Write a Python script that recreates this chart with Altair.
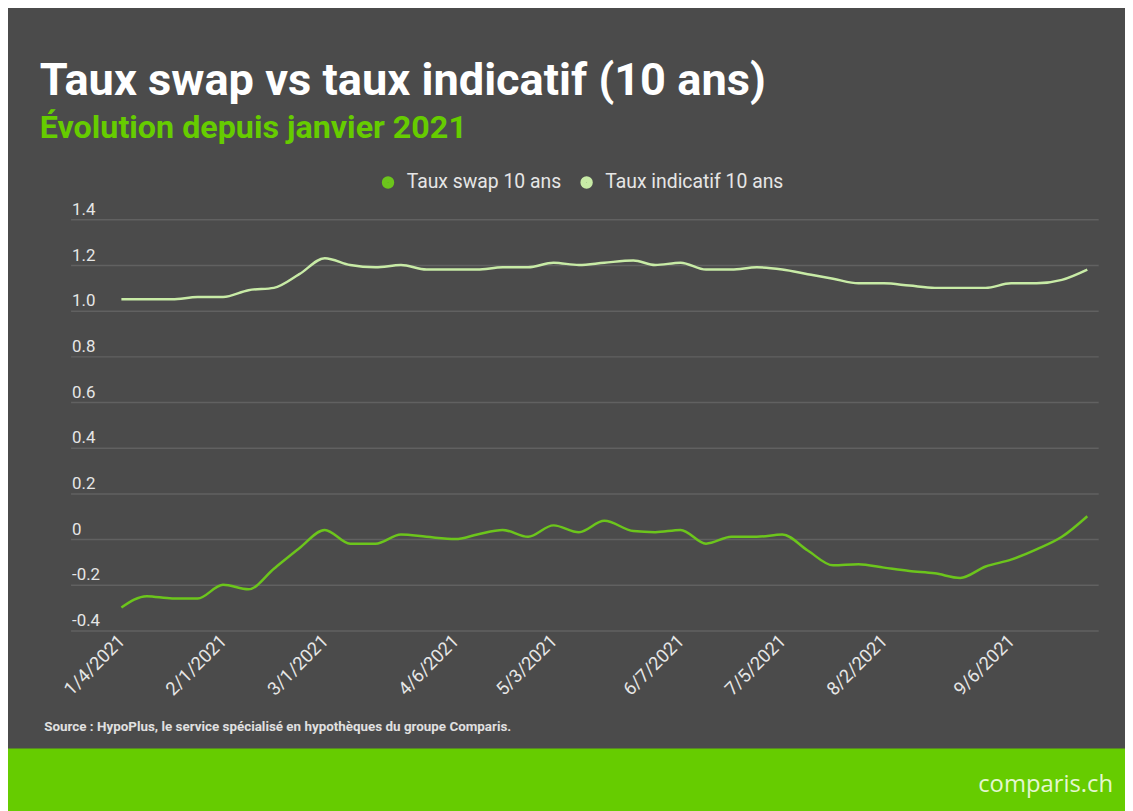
import altair as alt
import pandas as pd

# ---- data ----
dates = [
    "2021-01-04", "2021-01-11", "2021-01-18", "2021-01-25",
    "2021-02-01", "2021-02-08", "2021-02-15", "2021-02-22",
    "2021-03-01", "2021-03-08", "2021-03-15", "2021-03-22", "2021-03-29",
    "2021-04-06", "2021-04-12", "2021-04-19", "2021-04-26",
    "2021-05-03", "2021-05-10", "2021-05-17", "2021-05-25", "2021-05-31",
    "2021-06-07", "2021-06-14", "2021-06-21", "2021-06-28",
    "2021-07-05", "2021-07-12", "2021-07-19", "2021-07-26",
    "2021-08-02", "2021-08-09", "2021-08-16", "2021-08-23", "2021-08-30",
    "2021-09-06", "2021-09-13", "2021-09-20", "2021-09-27",
]
swap = [
    -0.30, -0.25, -0.26, -0.26,
    -0.20, -0.22, -0.13, -0.04,
    0.04, -0.02, -0.02, 0.02, 0.01,
    0.00, 0.02, 0.04, 0.01,
    0.06, 0.03, 0.08, 0.035, 0.03,
    0.04, -0.02, 0.01, 0.01,
    0.02, -0.05, -0.115, -0.11,
    -0.125, -0.14, -0.15, -0.17, -0.12,
    -0.09, -0.045, 0.01, 0.10,
]
indicatif = [
    1.05, 1.05, 1.05, 1.06,
    1.06, 1.09, 1.10, 1.16,
    1.23, 1.20, 1.19, 1.20, 1.18,
    1.18, 1.18, 1.19, 1.19,
    1.21, 1.20, 1.21, 1.22, 1.20,
    1.21, 1.18, 1.18, 1.19,
    1.18, 1.16, 1.14, 1.12,
    1.12, 1.11, 1.10, 1.10, 1.10,
    1.12, 1.12, 1.135, 1.18,
]
series_names = ["Taux swap 10 ans", "Taux indicatif 10 ans"]
series_colors = ["#6cc51c", "#c8eba6"]
tick_dates = [(2021, 1, 4), (2021, 2, 1), (2021, 3, 1), (2021, 4, 6), (2021, 5, 3),
              (2021, 6, 7), (2021, 7, 5), (2021, 8, 2), (2021, 9, 6)]
y_ticks = [-0.4, -0.2, 0, 0.2, 0.4, 0.6, 0.8, 1.0, 1.2, 1.4]

rows = []
for d, s, i in zip(dates, swap, indicatif):
    rows.append({"date": d + "T00:00:00", "serie": series_names[0], "value": s})
    rows.append({"date": d + "T00:00:00", "serie": series_names[1], "value": i})
df = pd.DataFrame(rows)

BG = "#4b4b4b"
W, H = 1035, 414
PAD_L, PAD_T, PAD_R, PAD_B = 63, 210, 27, 179

lines = alt.Chart(df).mark_line(interpolate="monotone", strokeWidth=2.5).encode(
    x=alt.X(
        "date:T",
        scale=alt.Scale(domain=[alt.DateTime(year=2020, month=12, date=21),
                                alt.DateTime(year=2021, month=9, date=30)]),
        axis=alt.Axis(
            values=[alt.DateTime(year=y, month=m, date=d) for (y, m, d) in tick_dates],
            format="%-m/%-d/%Y", labelAngle=-45, labelAlign="right", labelBaseline="middle",
            labelPadding=7, labelFontSize=18.5, labelColor="#e6e6e6", labelFont="Roboto",
            domain=False, ticks=False, grid=False, labelOverlap=False,
            title="Source : HypoPlus, le service spécialisé en hypothèques du groupe Comparis.",
            titleFont="Roboto", titleFontSize=13.5, titleFontWeight="bold", titleColor="#e0e0e0",
            titleAlign="left", titleAnchor="start", titleX=-27, titleY=101,
            titleBaseline="alphabetic",
        ),
    ),
    y=alt.Y(
        "value:Q",
        scale=alt.Scale(domain=[-0.4, 1.4], nice=False, zero=False),
        axis=alt.Axis(
            values=y_ticks, title=None, domain=False, ticks=False,
            labelAlign="left", labelBaseline="alphabetic", labelPadding=-1, labelOffset=-5,
            labelFontSize=17, labelColor="#e6e6e6", labelFont="Roboto",
            labelExpr="datum.value == 0 ? '0' : replace(format(datum.value, '.1f'), '\u2212', '-')",
            gridColor="#616161", gridWidth=1.5,
        ),
    ),
    color=alt.Color(
        "serie:N",
        sort=series_names,
        scale=alt.Scale(domain=series_names, range=series_colors),
        legend=alt.Legend(
            orient="none", legendX=310, legendY=-47, direction="horizontal", title=None,
            symbolType="circle", symbolSize=36, symbolStrokeWidth=6.5,
            labelFontSize=19.5, labelColor="#e6e6e6", labelFont="Roboto", labelLimit=0,
            labelOffset=9, columnPadding=8,
        ),
    ),
)

footer_df = pd.DataFrame({"label": ["comparis.ch"]})
band = alt.Chart(footer_df).mark_rect(color="#66cc00").encode(
    x=alt.value(-PAD_L), x2=alt.value(W + PAD_R + 10),
    y=alt.value(533), y2=alt.value(620),
)
logo = alt.Chart(footer_df).mark_text(
    align="right", baseline="alphabetic", font="Open Sans", fontSize=24, color="#e4f7d0"
).encode(text="label:N", x=alt.value(1050), y=alt.value(577))

chart = alt.layer(lines, band, logo).properties(
    width=W, height=H,
    autosize=alt.AutoSizeParams(type="none"),
    padding={"left": PAD_L, "top": PAD_T, "right": PAD_R, "bottom": PAD_B},
    background=BG,
    title=alt.TitleParams(
        text="Taux swap vs taux indicatif (10 ans)",
        subtitle="Évolution depuis janvier 2021",
        anchor="start", frame="group", dx=-31,
        font="Roboto", fontSize=45.5, fontWeight="bold", color="#ffffff",
        subtitleFont="Roboto", subtitleFontSize=32.5, subtitleFontWeight="bold",
        subtitleColor="#66cc00", subtitlePadding=8, offset=28,
    ),
).configure_view(stroke=None)

chart.save("out.html", embed_options={"renderer": "svg", "actions": False})
